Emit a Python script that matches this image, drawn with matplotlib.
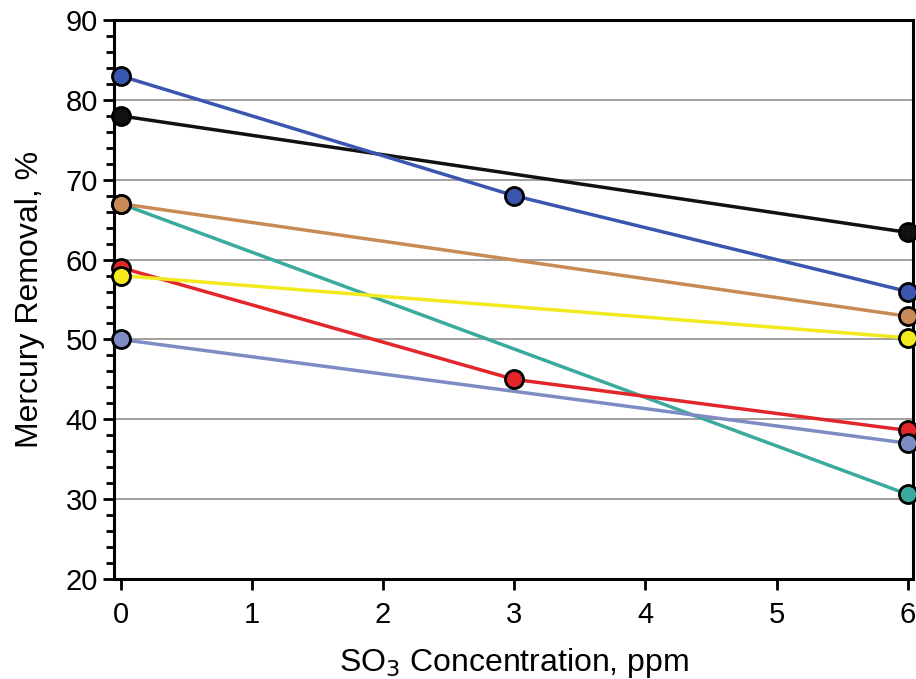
import numpy as np
import matplotlib.pyplot as plt
from matplotlib.ticker import MultipleLocator

plt.rcParams['font.family'] = ['Liberation Sans', 'DejaVu Sans']

# data
x3 = [0, 3, 6]
x2 = [0, 6]
blue = [83, 68, 56]
red = [59, 45, 38.6]
black = [78, 63.4]
tan = [67, 52.9]
teal = [67, 30.6]
yellow = [58, 50.2]
purple = [50, 37]

series = [
    (x2, teal, '#3aaa9e'),
    (x2, tan, '#c98b55'),
    (x3, red, '#e3262b'),
    (x2, yellow, '#f2ea1c'),
    (x2, purple, '#7e8cc4'),
    (x2, black, '#111111'),
    (x3, blue, '#3a56b0'),
]

fig = plt.figure(figsize=(9.16, 6.79), dpi=100)
ax = fig.add_axes([0.1245, 0.1473, 0.8722, 0.8232])

for i, (xs, ys, c) in enumerate(series):
    ax.plot(xs, ys, color=c, lw=2.5, zorder=3 + i * 0.1)
for i, (xs, ys, c) in enumerate(series):
    ax.plot(xs, ys, 'o', color=c, ms=13, mec='black', mew=2, zorder=5 + i * 0.1,
            clip_on=False)

ax.set_xlim(-0.05, 6.04)
ax.set_ylim(20, 90)
ax.xaxis.set_major_locator(MultipleLocator(1))
ax.yaxis.set_major_locator(MultipleLocator(10))
ax.yaxis.set_minor_locator(MultipleLocator(2))
ax.grid(axis='y', color='#999999', lw=1.3, zorder=1)

for s in ax.spines.values():
    s.set_linewidth(2.2)
ax.tick_params(axis='both', which='major', labelsize=21, width=2, length=8, direction='out')
ax.tick_params(axis='y', which='minor', width=2, length=6, direction='out')
ax.tick_params(axis='x', pad=8)

ax.set_xlabel('SO$_3$ Concentration, ppm', fontsize=23, labelpad=12)
ax.set_ylabel('Mercury Removal, %', fontsize=23, labelpad=15)

fig.savefig('out.png', dpi=100)
